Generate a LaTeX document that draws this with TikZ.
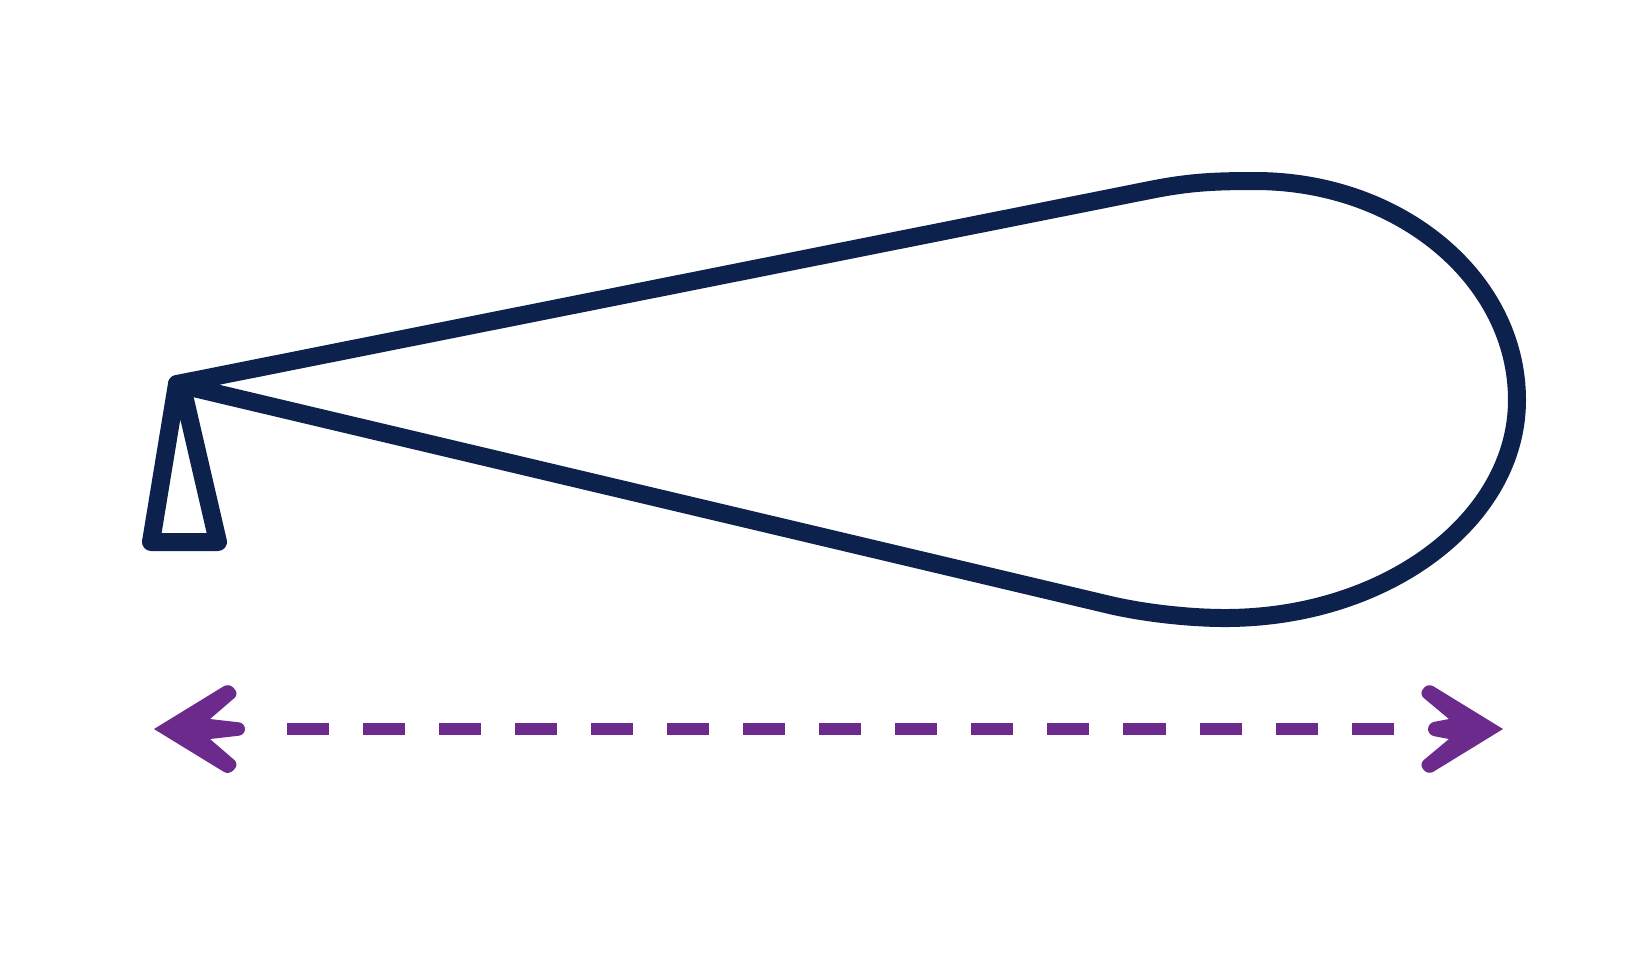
\documentclass[tikz,border=0pt]{standalone}

\definecolor{navy}{RGB}{12,33,76}
\definecolor{plum}{RGB}{108,42,140}

\begin{document}
\begin{tikzpicture}[x=0.01cm, y=-0.01cm,
    outline/.style={draw=navy, line width=0.18cm, line join=round, line cap=round},
    span/.style={draw=plum, line width=0.12cm, dash pattern=on 0.42cm off 0.34cm},
    head/.style={fill=plum},
    soft/.style={rounded corners=0.06cm}]

\fill[white] (0,0) rectangle (1651,953);
\useasboundingbox (0,0) rectangle (1651,953);

\coordinate (P) at (177,384);
\coordinate (Q) at (183,391);
\coordinate (BL) at (151,542);
\coordinate (BR) at (218,542);
\coordinate (U) at (1150,190);
\coordinate (T) at (1255,181);
\coordinate (R) at (1517,400);
\coordinate (B) at (1225,618);
\coordinate (L) at (1110,605);

% sail
\draw[outline] (P) -- (U)
    .. controls (1190,182) and (1215,181) .. (T)
    .. controls (1400,181) and (1517,279) .. (R)
    .. controls (1517,520) and (1386,618) .. (B)
    .. controls (1185,618) and (1140,612) .. (L)
    -- cycle;

% stand
\draw[outline] (P) -- (BL) -- (BR) -- (Q);

% span
\coordinate (SL) at (287,729);
\coordinate (SR) at (1395,729);
\draw[span] (SL) -- (SR);

\fill[head] (154,729) [soft] -- (229,683) -- (239,694) [sharp corners] -- (210,719)
    [soft] -- (245,723) -- (245,735) [sharp corners] -- (210,739)
    [soft] -- (239,764) -- (229,775) [sharp corners] -- cycle;
\fill[head] (1503,729) [soft] -- (1428,683) -- (1419,694) [sharp corners] -- (1449,719)
    [soft] -- (1428,723) -- (1428,735) [sharp corners] -- (1449,739)
    [soft] -- (1419,764) -- (1428,775) [sharp corners] -- cycle;

\end{tikzpicture}
\end{document}
